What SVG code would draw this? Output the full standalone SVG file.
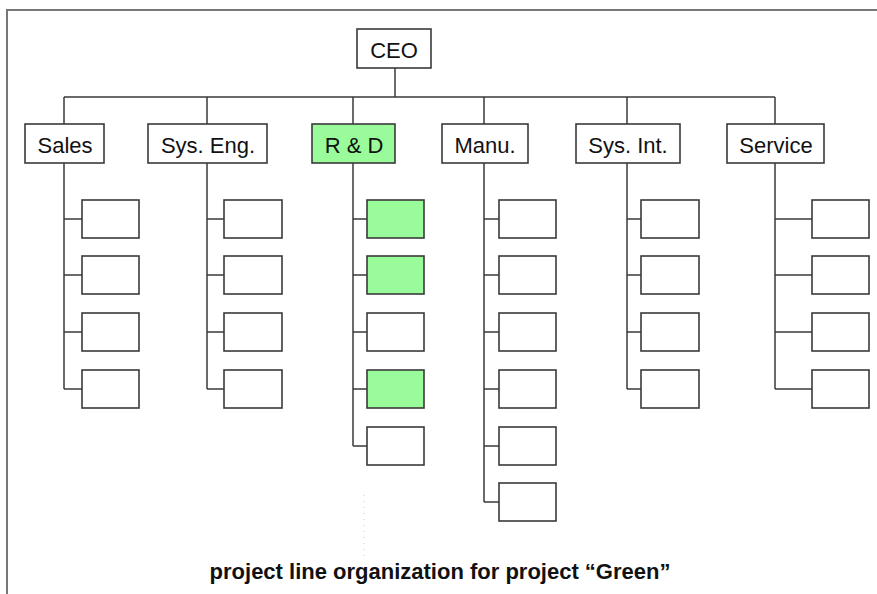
<svg xmlns="http://www.w3.org/2000/svg" width="877" height="594" viewBox="0 0 877 594">
<style>
.box{fill:#fff;stroke:#3a3a3a;stroke-width:1.6}
.green{fill:#99fb99}
.ln{fill:none;stroke:#3a3a3a;stroke-width:1.5}
.lbl{font-family:"Liberation Sans",Arial,sans-serif;font-size:22px;fill:#111;text-anchor:middle}
.cap{font-family:"Liberation Sans",Arial,sans-serif;font-size:22px;font-weight:bold;fill:#111;text-anchor:middle}
</style>
<rect x="0" y="0" width="877" height="594" fill="#fff"/>
<rect x="7" y="10" width="880" height="600" fill="none" stroke="#777" stroke-width="2"/>
<g id="connectors">
<path class="ln" d="M395 68V97M64 97H775M64 97V124M207 97V124M353 97V124M484 97V124M627 97V124M775 97V124"/>
<path class="ln" d="M64 163V389M64 219H82M64 275H82M64 332H82M64 389H82"/>
<path class="ln" d="M207 163V389M207 219H224M207 275H224M207 332H224M207 389H224"/>
<path class="ln" d="M353 163V446M353 219H367M353 275H367M353 332H367M353 389H367M353 446H367"/>
<path class="ln" d="M484 163V502M484 219H499M484 275H499M484 332H499M484 389H499M484 446H499M484 502H499"/>
<path class="ln" d="M627 163V389M627 219H641M627 275H641M627 332H641M627 389H641"/>
<path class="ln" d="M775 163V389M775 219H812M775 275H812M775 332H812M775 389H812"/>
<path d="M364 495V556" stroke="#c8d0d4" stroke-width="1" stroke-dasharray="1,5" fill="none"/>
</g>
<g id="ceo"><rect class="box" x="357" y="29" width="74" height="39"/><text class="lbl" x="394" y="58">CEO</text></g>
<g id="sales"><rect class="box" x="25" y="124" width="79" height="39"/><text class="lbl" x="65" y="153">Sales</text></g>
<g id="syseng"><rect class="box" x="148" y="124" width="119" height="39"/><text class="lbl" x="208" y="153">Sys. Eng.</text></g>
<g id="rd"><rect class="box green" x="312" y="124" width="83" height="39"/><text class="lbl" x="354" y="153">R &amp; D</text></g>
<g id="manu"><rect class="box" x="442" y="124" width="86" height="39"/><text class="lbl" x="485" y="153">Manu.</text></g>
<g id="sysint"><rect class="box" x="576" y="124" width="104" height="39"/><text class="lbl" x="628" y="153">Sys. Int.</text></g>
<g id="service"><rect class="box" x="727" y="124" width="97" height="39"/><text class="lbl" x="776" y="153">Service</text></g>
<g id="sales-units">
<rect class="box" x="82" y="200" width="57" height="38"/><rect class="box" x="82" y="256" width="57" height="38"/><rect class="box" x="82" y="313" width="57" height="38"/><rect class="box" x="82" y="370" width="57" height="38"/>
</g>
<g id="syseng-units">
<rect class="box" x="224" y="200" width="58" height="38"/><rect class="box" x="224" y="256" width="58" height="38"/><rect class="box" x="224" y="313" width="58" height="38"/><rect class="box" x="224" y="370" width="58" height="38"/>
</g>
<g id="rd-units">
<rect class="box green" x="367" y="200" width="57" height="38"/><rect class="box green" x="367" y="256" width="57" height="38"/><rect class="box" x="367" y="313" width="57" height="38"/><rect class="box green" x="367" y="370" width="57" height="38"/><rect class="box" x="367" y="427" width="57" height="38"/>
</g>
<g id="manu-units">
<rect class="box" x="499" y="200" width="57" height="38"/><rect class="box" x="499" y="256" width="57" height="38"/><rect class="box" x="499" y="313" width="57" height="38"/><rect class="box" x="499" y="370" width="57" height="38"/><rect class="box" x="499" y="427" width="57" height="38"/><rect class="box" x="499" y="483" width="57" height="38"/>
</g>
<g id="sysint-units">
<rect class="box" x="641" y="200" width="58" height="38"/><rect class="box" x="641" y="256" width="58" height="38"/><rect class="box" x="641" y="313" width="58" height="38"/><rect class="box" x="641" y="370" width="58" height="38"/>
</g>
<g id="service-units">
<rect class="box" x="812" y="200" width="57" height="38"/><rect class="box" x="812" y="256" width="57" height="38"/><rect class="box" x="812" y="313" width="57" height="38"/><rect class="box" x="812" y="370" width="57" height="38"/>
</g>
<g id="caption"><text class="cap" x="440" y="579">project line organization for project “Green”</text></g>
</svg>
